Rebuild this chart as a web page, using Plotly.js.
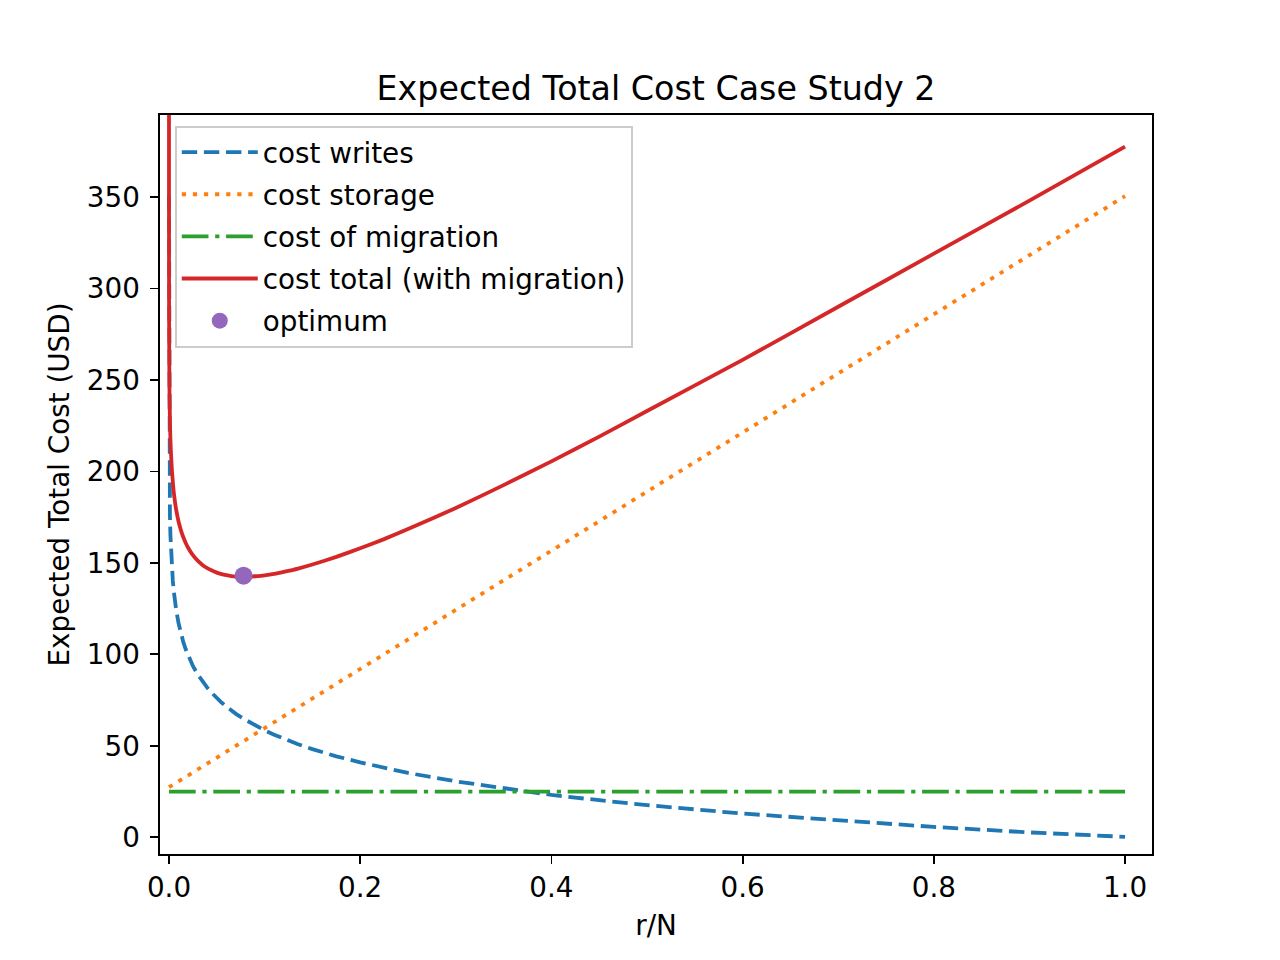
<!DOCTYPE html>
<html>
<head>
<meta charset="utf-8">
<script src="https://cdn.plot.ly/plotly-3.0.1.min.js"></script>
<style>html,body{margin:0;padding:0;background:#fff}#chart{width:1280px;height:960px}</style>
</head>
<body>
<div id="chart"></div>
<script>
// r/N sample points
const rN = [0.000001, 0.00001, 0.0001, 0.0005, 0.001, 0.0015, 0.002, 0.003, 0.004, 0.005,
            0.0065, 0.0075, 0.01, 0.0125, 0.015, 0.0175, 0.02, 0.025, 0.03, 0.035,
            0.04, 0.045, 0.05, 0.055, 0.06, 0.065, 0.07, 0.078, 0.085, 0.09,
            0.1, 0.11, 0.12, 0.135, 0.15, 0.175, 0.2, 0.225, 0.25, 0.3,
            0.35, 0.4, 0.45, 0.5, 0.6, 0.7, 0.8, 0.9, 1.0];
// cost writes (USD)
const costWrites = [351, 292, 234, 193, 175.5, 165.2, 158, 147.6, 140.3, 134.6,
                    128, 124.3, 117, 111.3, 106.7, 102.8, 99.4, 93.7, 89.1, 85.2,
                    81.8, 78.8, 76.1, 73.7, 71.5, 69.4, 67.5, 64.8, 62.7, 61.2,
                    58.5, 56.1, 53.9, 50.9, 48.2, 44.3, 41, 38, 35.2, 30.6,
                    26.7, 23.2, 20.3, 17.6, 13, 9.1, 5.7, 2.7, 0.3];
// cost total with migration (USD)
const costTotal = [403, 345, 286.4, 245.5, 228, 217.6, 211, 201, 194.4, 188.6,
                   182.5, 179.1, 172.6, 167.8, 164, 160.9, 158.3, 154.2, 151.2, 148.9,
                   147.1, 145.8, 144.7, 143.9, 143.3, 142.8, 142.5, 142.4, 142.5, 142.7,
                   143.2, 144, 145.1, 146.9, 149.1, 153.3, 158, 163, 168.5, 180,
                   192.5, 205.5, 219, 233, 261, 290, 319, 348, 377.5];
// cost storage (linear) and migration (constant)
const storageX = [0, 1];
const costStorage = [27.4, 350.5];
const migrationX = [0, 1];
const costMigration = [25, 25];
// optimum
const optX = [0.078];
const optY = [143];

const names = ["cost writes", "cost storage", "cost of migration", "cost total (with migration)", "optimum"];
const colors = ["#1f77b4", "#ff7f0e", "#2ca02c", "#d62728", "#9467bd"];
const lw = 3.8;

const traces = [
  {x: rN, y: costWrites, name: names[0], legendgroup: "g0", mode: "lines",
   line: {color: colors[0], width: lw, dash: "15.4px,6.7px"}},
  {x: storageX, y: costStorage, name: names[1], legendgroup: "g1", mode: "lines",
   line: {color: colors[1], width: lw, dash: "4.2px,6.9px"}},
  {x: migrationX, y: costMigration, name: names[2], legendgroup: "g2", mode: "lines",
   line: {color: colors[2], width: lw, dash: "26.7px,6.7px,4.2px,6.7px"}},
  {x: rN, y: costTotal, name: names[3], legendgroup: "g3", mode: "lines",
   line: {color: colors[3], width: lw, shape: "spline", smoothing: 0.5}},
  {x: optX, y: optY, name: names[4], legendgroup: "g4", mode: "markers",
   marker: {color: colors[4], size: 18}}
];

const font = {family: "DejaVu Sans, sans-serif", size: 27.8, color: "#000"};

const layout = {
  width: 1280, height: 960,
  margin: {l: 160, r: 128, t: 115, b: 106},
  paper_bgcolor: "#fff", plot_bgcolor: "#fff",
  font: font,
  showlegend: true,
  title: {text: "Expected Total Cost Case Study 2", font: {family: "DejaVu Sans, sans-serif", size: 33.3, color: "#000"},
          x: 0.5, xref: "paper", xanchor: "center", y: 1, yref: "paper", yanchor: "bottom", pad: {b: 15}},
  xaxis: {
    range: [-0.0094, 1.0282], autorange: false,
    tickvals: [0, 0.2, 0.4, 0.6, 0.8, 1.0], tickformat: ".1f",
    ticks: "outside", ticklen: 7.8, tickwidth: 1.8, tickcolor: "#000",
    showline: true, linecolor: "#000", linewidth: 1.8, mirror: true,
    showgrid: false, zeroline: false,
    tickfont: font, ticklabelstandoff: 0,
    title: {text: "r/N", font: font, standoff: 12}
  },
  yaxis: {
    range: [-9.1, 394.8], autorange: false,
    tickvals: [0, 50, 100, 150, 200, 250, 300, 350],
    ticks: "outside", ticklen: 7.8, tickwidth: 1.8, tickcolor: "#000",
    showline: true, linecolor: "#000", linewidth: 1.8, mirror: true,
    showgrid: false, zeroline: false,
    tickfont: font, ticklabelstandoff: 5,
    title: {text: "Expected Total Cost (USD)", font: font, standoff: 9}
  },
  legend: {
    x: 0.0151, y: 0.9855, xanchor: "left", yanchor: "top",
    bgcolor: "rgba(255,255,255,0.8)", bordercolor: "#cccccc", borderwidth: 1.8,
    font: font, tracegroupgap: 3, itemwidth: 76
  }
};

Plotly.newPlot("chart", traces, layout, {displayModeBar: false, staticPlot: true});
</script>
</body>
</html>
